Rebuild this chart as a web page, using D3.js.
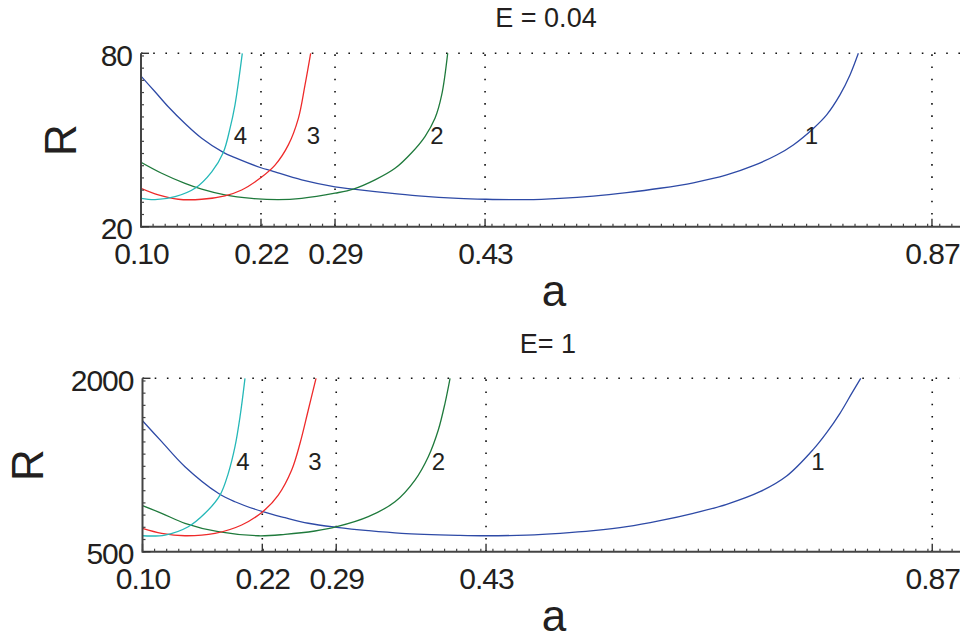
<!DOCTYPE html>
<html><head><meta charset="utf-8">
<script src="https://cdn.jsdelivr.net/npm/d3@7"></script>
<style>body{margin:0;background:#fff}svg{display:block}text{font-family:"Liberation Sans",Arial,Helvetica,sans-serif;fill:#231f20}</style>
</head><body><svg id="c" width="960" height="639"></svg>
<script>
// ---- data ----
const aTicks = [0.1, 0.2162, 0.2879, 0.4332, 0.866];
const aTickLabels = ["0.10", "0.22", "0.29", "0.43", "0.87"];
const titles = ["E = 0.04", "E= 1"];
const rTicksTop = [20, 80];
const rTicksBottom = [500, 2000];
const curveNames = ["1", "2", "3", "4"];

// top panel (E = 0.04)
const top1_a = [0.1,0.1136,0.1264,0.1426,0.1588,0.1797,0.191,0.2162,0.2266,0.2556,0.2879,0.3056,0.3363,0.3686,0.4073,0.4332,0.4735,0.5058,0.538,0.5704,0.6026,0.6349,0.6672,0.693,0.7156,0.7317,0.7511,0.764,0.7769,0.7866,0.7947];
const top1_R = [72.1,66.7,61.5,55.7,50.6,45.7,43.9,40.4,39.3,36.2,33.8,33.0,31.8,30.7,29.8,29.5,29.35,29.8,30.6,31.8,33.3,35.2,37.9,41.1,44.8,48.3,54.0,58.7,65.6,72.5,80];
const top2_a = [0.1,0.12,0.1426,0.1588,0.1813,0.2072,0.233,0.2556,0.2879,0.3056,0.3266,0.346,0.3621,0.375,0.3847,0.3912,0.397];
const top2_R = [42.3,38.5,35.0,33.0,31.0,29.8,29.35,29.8,31.6,33.0,36.2,40.2,45.6,51.2,57.5,65.6,80];
const top3_a = [0.1,0.1168,0.1361,0.1588,0.1813,0.1975,0.2162,0.2298,0.2427,0.2524,0.2588,0.2643];
const top3_R = [33.3,31.0,29.5,29.5,30.7,32.7,37.0,41.3,48.3,57.5,69.0,80];
const top4_a = [0.1,0.1136,0.133,0.1523,0.1685,0.1797,0.1862,0.191,0.1949,0.1981];
const top4_R = [29.8,29.35,30.4,33.3,39.0,45.7,54.0,62.1,71.4,80];
const topLabelA = [0.7492, 0.3867, 0.267, 0.1964];
const topLabelR = [48.6, 48.6, 48.6, 48.6];

// bottom panel (E = 1)
const bot1_a = [0.1,0.1186,0.1412,0.1735,0.1897,0.2166,0.2382,0.2608,0.2884,0.319,0.3514,0.4063,0.4332,0.4727,0.505,0.5373,0.5697,0.6019,0.6342,0.6666,0.6989,0.7248,0.7506,0.7636,0.7765,0.7879,0.7966];
const bot1_R = [1633,1452,1235,1005,932,846,794,746,711,682,659,642,638,644,659,682,716,768,832,910,1019,1155,1385,1530,1697,1870,2000];
const bot2_a = [0.1,0.1186,0.1412,0.1735,0.2123,0.2382,0.2673,0.2884,0.319,0.3449,0.3643,0.3772,0.3869,0.3934,0.3983];
const bot2_R = [898,832,746,673,638,650,679,716,803,932,1120,1322,1553,1784,2000];
const bot3_a = [0.1,0.1186,0.1412,0.1703,0.1962,0.2166,0.2317,0.2447,0.2528,0.2608,0.2683];
const bot3_R = [702,659,638,659,731,846,990,1207,1438,1726,2000];
const bot4_a = [0.1,0.1218,0.1444,0.1606,0.1752,0.1832,0.1897,0.1946,0.1994];
const bot4_R = [638,644,716,832,990,1178,1408,1668,2000];
const botLabelA = [0.7552, 0.3871, 0.2673, 0.1975];
const botLabelR = [1211, 1211, 1211, 1211];

// ---- drawing ----
const colors = ["#2e4aa6", "#1f7a3c", "#ee2a2a", "#25b8b8"];
const svg = d3.select("#c");

function zip(a, r) { return a.map((v, i) => ({a: v, R: r[i]})); }

const panels = [
  {title: titles[0], titleX: 546, titleY: 27, left: 141, top: 53.3, bottom: 226.7, pxPerA: 1032.6,
   yDomain: rTicksTop, yTicks: rTicksTop, yMinorStep: 4.22, labelX: 76, labelY: 140, aLabelY: 306, xLabY: 264,
   series: [zip(top1_a, top1_R), zip(top2_a, top2_R), zip(top3_a, top3_R), zip(top4_a, top4_R)],
   la: topLabelA, lr: topLabelR, id: "t"},
  {title: titles[1], titleX: 548, titleY: 352.5, left: 142.5, top: 378.3, bottom: 551.7, pxPerA: 1031,
   yDomain: rTicksBottom, yTicks: rTicksBottom, yMinorStep: 105.5, labelX: 43, labelY: 465, aLabelY: 631, xLabY: 589,
   series: [zip(bot1_a, bot1_R), zip(bot2_a, bot2_R), zip(bot3_a, bot3_R), zip(bot4_a, bot4_R)],
   la: botLabelA, lr: botLabelR, id: "b"}
];

panels.forEach(p => {
  const x = d3.scaleLinear().domain([0.1, 0.9]).range([p.left, p.left + 0.8 * p.pxPerA]);
  const y = d3.scaleLinear().domain(p.yDomain).range([p.bottom, p.top]);
  const g = svg.append("g");
  const W = 960;

  // title
  g.append("text").attr("x", p.titleX).attr("y", p.titleY).attr("text-anchor", "middle")
    .style("font-size", "27px").text(p.title);

  // dotted grid lines
  const dot = "1.6 10.6";
  aTicks.slice(1).forEach(t => {
    g.append("line").attr("x1", x(t)).attr("x2", x(t)).attr("y1", p.bottom).attr("y2", p.top)
      .attr("stroke", "#111").attr("stroke-width", 1.6).attr("stroke-dasharray", dot);
  });
  g.append("line").attr("x1", p.left).attr("x2", W).attr("y1", y(p.yTicks[1])).attr("y2", y(p.yTicks[1]))
    .attr("stroke", "#111").attr("stroke-width", 1.6).attr("stroke-dasharray", dot);

  // curves
  const clipId = "clip" + p.id;
  svg.append("clipPath").attr("id", clipId).append("rect")
    .attr("x", p.left).attr("y", p.top - 1).attr("width", W - p.left).attr("height", p.bottom - p.top + 1);
  const line = d3.line().x(d => x(d.a)).y(d => y(d.R)).curve(d3.curveCatmullRom.alpha(0.5));
  p.series.forEach((s, i) => {
    g.append("path").attr("d", line(s)).attr("fill", "none").attr("stroke", colors[i])
      .attr("stroke-width", 1.3).attr("clip-path", `url(#${clipId})`);
  });

  // curve labels
  curveNames.forEach((n, i) => {
    g.append("text").attr("x", x(p.la[i])).attr("y", y(p.lr[i])).attr("text-anchor", "middle")
      .style("font-size", "24px").text(n);
  });

  // x axis
  const xAxis = d3.axisBottom(x).tickValues(aTicks).tickFormat((d, i) => aTickLabels[i]).tickSize(0).tickPadding(0);
  const xa = g.append("g").attr("transform", `translate(0,${p.bottom})`).call(xAxis);
  xa.select(".domain").remove();
  xa.selectAll("text").attr("y", p.xLabY - p.bottom).attr("dy", null)
    .style("font-size", "30px").style("letter-spacing", "-1px").style("fill", "#231f20");
  // minor ticks
  d3.range(0.1, 0.9, 0.01172).forEach(t => {
    g.append("line").attr("x1", x(t)).attr("x2", x(t)).attr("y1", p.bottom).attr("y2", p.bottom - 3)
      .attr("stroke", "#444").attr("stroke-width", 1.2);
  });
  aTicks.forEach(t => {
    g.append("line").attr("x1", x(t)).attr("x2", x(t)).attr("y1", p.bottom).attr("y2", p.bottom - 8)
      .attr("stroke", "#333").attr("stroke-width", 1.4);
  });
  g.append("line").attr("x1", p.left).attr("x2", W).attr("y1", p.bottom).attr("y2", p.bottom)
    .attr("stroke", "#444").attr("stroke-width", 2);

  // y axis
  const yAxis = d3.axisLeft(y).tickValues(p.yTicks).tickSize(0).tickPadding(0).tickFormat(d3.format("d"));
  const ya = g.append("g").attr("transform", `translate(${p.left - 9},0)`).call(yAxis);
  ya.select(".domain").remove();
  ya.selectAll("text").attr("dy", "0.4em").style("font-size", "30px").style("letter-spacing", "-1px").style("fill", "#231f20");
  const y0 = p.yDomain[0], y1 = p.yDomain[1];
  d3.range(y0, y1 + 1e-6, p.yMinorStep).forEach(t => {
    g.append("line").attr("x1", p.left).attr("x2", p.left + 3).attr("y1", y(t)).attr("y2", y(t))
      .attr("stroke", "#444").attr("stroke-width", 1.2);
  });
  p.yTicks.forEach(t => {
    g.append("line").attr("x1", p.left).attr("x2", p.left + 8).attr("y1", y(t)).attr("y2", y(t))
      .attr("stroke", "#333").attr("stroke-width", 1.4);
  });
  g.append("line").attr("x1", p.left).attr("x2", p.left).attr("y1", p.top).attr("y2", p.bottom + 1)
    .attr("stroke", "#444").attr("stroke-width", 2);

  // axis labels
  g.append("text").attr("transform", `translate(${p.labelX},${p.labelY}) rotate(-90)`)
    .attr("text-anchor", "middle").style("font-size", "44px").text("R");
  g.append("text").attr("x", 554).attr("y", p.aLabelY).attr("text-anchor", "middle")
    .style("font-size", "44px").text("a");
});
</script></body></html>
